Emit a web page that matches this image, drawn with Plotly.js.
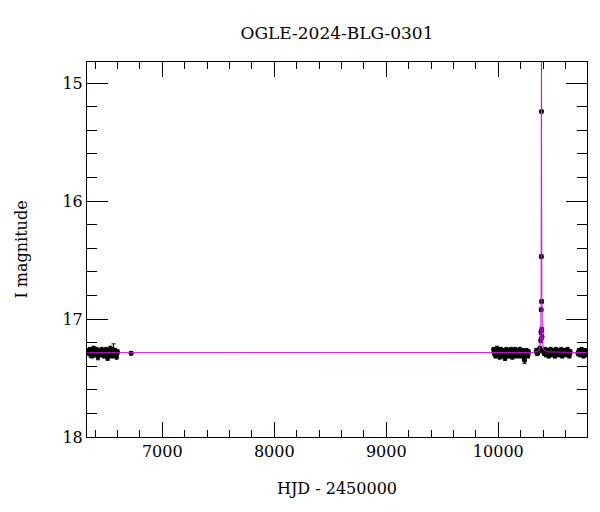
<!DOCTYPE html>
<html>
<head>
<meta charset="utf-8">
<script src="https://cdn.plot.ly/plotly-3.0.1.min.js"></script>
<style>html,body{margin:0;padding:0;background:#fff;}#plot{width:600px;height:512px;}</style>
</head>
<body>
<div id="plot"></div>
<script>
// Observations (HJD - 2450000, I mag, error)
var season1T = [6342,6348,6355,6361,6368,6374,6381,6387,6394,6400,6407,6413,6420,6426,6433,6440,6446,6453,6459,6466,6472,6479,6486,6492,6499,6505,6512,6519,6525,6532,6538,6545,6552,6558,6565,6571,6578,6585,6592,6600,6722];
var season1M = [17.27,17.29,17.26,17.30,17.28,17.31,17.27,17.25,17.29,17.28,17.30,17.26,17.28,17.32,17.27,17.29,17.28,17.30,17.26,17.29,17.27,17.31,17.28,17.30,17.26,17.29,17.33,17.27,17.28,17.30,17.25,17.29,17.31,17.27,17.26,17.30,17.27,17.29,17.32,17.28,17.29];
var season1E = [0.02,0.02,0.02,0.025,0.02,0.02,0.02,0.02,0.02,0.02,0.02,0.02,0.02,0.025,0.02,0.02,0.02,0.02,0.02,0.02,0.02,0.02,0.02,0.02,0.02,0.02,0.02,0.02,0.02,0.02,0.02,0.02,0.02,0.02,0.05,0.02,0.02,0.02,0.02,0.02,0.015];

var season2T = [9958,9964,9970,9976,9982,9988,9994,10000,10006,10012,10018,10024,10030,10036,10042,10048,10054,10060,10066,10072,10078,10084,10090,10096,10102,10108,10114,10120,10126,10132,10138,10144,10150,10156,10162,10168,10174,10180,10186,10192,10198,10204,10210,10216,10222,10228,10234,10240,10246,10252,10258,10264,10270,10340,10348,10356,10364,10372];
var season2M = [17.26,17.29,17.27,17.31,17.28,17.25,17.30,17.28,17.27,17.32,17.29,17.26,17.30,17.28,17.31,17.27,17.29,17.33,17.28,17.26,17.30,17.29,17.27,17.31,17.28,17.30,17.26,17.29,17.32,17.27,17.28,17.30,17.26,17.29,17.31,17.28,17.27,17.30,17.29,17.26,17.31,17.28,17.30,17.27,17.29,17.32,17.35,17.28,17.30,17.27,17.29,17.31,17.28,17.27,17.29,17.28,17.26,17.25];
var season2E = [0.02,0.02,0.02,0.02,0.02,0.02,0.02,0.02,0.02,0.02,0.02,0.02,0.02,0.02,0.02,0.02,0.02,0.02,0.02,0.02,0.02,0.02,0.02,0.02,0.02,0.02,0.02,0.02,0.02,0.02,0.02,0.02,0.02,0.02,0.02,0.02,0.02,0.02,0.02,0.02,0.02,0.02,0.02,0.02,0.02,0.02,0.025,0.02,0.02,0.02,0.02,0.02,0.02,0.02,0.02,0.02,0.02,0.02];

var peakT = [10379,10381,10383,10384.5,10385.5,10386.5,10388,10390];
var peakM = [17.18,17.11,16.92,16.47,15.24,16.85,17.09,17.15];
var peakE = [0.02,0.02,0.015,0.015,0.01,0.015,0.02,0.02];

var season3T = [10402,10410,10418,10426,10434,10442,10450,10458,10466,10474,10482,10490,10498,10506,10514,10522,10530,10538,10546,10554,10562,10570,10578,10586,10594,10602,10610,10618,10626,10634,10642,10712,10720,10728,10736,10744,10752,10760,10768,10776,10784,10792];
var season3M = [17.27,17.29,17.26,17.30,17.28,17.27,17.31,17.28,17.26,17.29,17.30,17.27,17.28,17.31,17.26,17.29,17.28,17.30,17.27,17.29,17.26,17.31,17.28,17.29,17.27,17.30,17.28,17.26,17.29,17.31,17.28,17.29,17.27,17.30,17.28,17.26,17.29,17.31,17.28,17.27,17.30,17.29];
var season3E = [0.02,0.02,0.02,0.02,0.02,0.02,0.02,0.02,0.02,0.02,0.02,0.02,0.02,0.02,0.02,0.02,0.02,0.02,0.02,0.02,0.02,0.02,0.02,0.02,0.02,0.02,0.02,0.02,0.02,0.02,0.02,0.02,0.02,0.02,0.02,0.02,0.02,0.02,0.02,0.02,0.02,0.02];

// Microlensing model curve
var modelT = [6300,10300,10350,10365,10374,10379,10382,10384,10385.5,10387,10389,10392,10397,10406,10430,10800];
var modelM = [17.285,17.284,17.275,17.26,17.22,17.12,16.85,16.0,14.5,16.0,16.85,17.12,17.22,17.26,17.278,17.285];

var allT = season1T.concat(season2T, peakT, season3T);
var allM = season1M.concat(season2M, peakM, season3M);
var allE = season1E.concat(season2E, peakE, season3E);

var serif = 'DejaVu Serif, Liberation Serif, serif';

var data = [
  {
    x: allT, y: allM, type: 'scatter', mode: 'markers',
    marker: {color: '#000', size: 5},
    error_y: {type: 'data', array: allE, visible: true, color: '#000', thickness: 1, width: 2},
    hoverinfo: 'x+y', showlegend: false
  },
  {
    x: modelT, y: modelM, type: 'scatter', mode: 'lines',
    line: {color: '#cc11dd', width: 1},
    hoverinfo: 'skip', showlegend: false
  }
];

var layout = {
  width: 600, height: 512,
  margin: {l: 87, r: 13, t: 62, b: 75},
  paper_bgcolor: '#fff', plot_bgcolor: '#fff',
  font: {family: serif, size: 16, color: '#000'},
  title: {text: 'OGLE-2024-BLG-0301', font: {family: serif, size: 17, color: '#000'},
          x: 0.5617, xref: 'container', xanchor: 'center', y: 0.935, yref: 'container', yanchor: 'middle'},
  xaxis: {
    range: [6328, 10792], showgrid: false, zeroline: false,
    showline: true, linecolor: '#000', linewidth: 1, mirror: 'allticks',
    ticks: 'inside', ticklen: 15, tickwidth: 1, tickcolor: '#000',
    dtick: 1000, tick0: 0, tickformat: 'd',
    minor: {dtick: 200, ticklen: 7, tickwidth: 1, tickcolor: '#000', ticks: 'inside', showgrid: false},
    tickfont: {family: serif, size: 16, color: '#000'},
    title: {text: 'HJD - 2450000', font: {family: serif, size: 16, color: '#000'}, standoff: 22}
  },
  yaxis: {
    range: [18, 14.82], showgrid: false, zeroline: false,
    showline: true, linecolor: '#000', linewidth: 1, mirror: 'allticks',
    ticks: 'inside', ticklen: 21, tickwidth: 1, tickcolor: '#000',
    dtick: 1, tick0: 0,
    minor: {dtick: 0.2, ticklen: 10, tickwidth: 1, tickcolor: '#000', ticks: 'inside', showgrid: false},
    tickfont: {family: serif, size: 16, color: '#000'},
    title: {text: 'I magnitude', font: {family: serif, size: 16, color: '#000'}, standoff: 30}
  }
};

Plotly.newPlot('plot', data, layout, {displayModeBar: false, staticPlot: true});
</script>
</body>
</html>
